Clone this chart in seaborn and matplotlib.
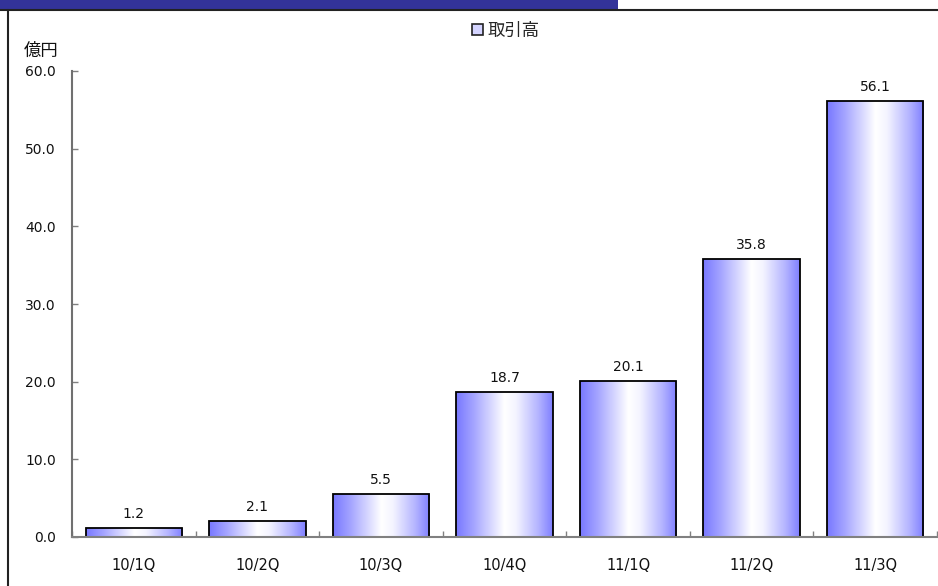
import numpy as np
import pandas as pd
import matplotlib
matplotlib.use("Agg")
import matplotlib.pyplot as plt
from matplotlib.colors import LinearSegmentedColormap
from matplotlib.patches import Rectangle, Patch
from matplotlib.lines import Line2D
import seaborn as sns

# Quarterly transaction volume (units: 100 million yen)
quarters = ["10/1Q", "10/2Q", "10/3Q", "10/4Q", "11/1Q", "11/2Q", "11/3Q"]
volume = [1.2, 2.1, 5.5, 18.7, 20.1, 35.8, 56.1]
series_name = "取引高"
unit_label = "億円"
y_ticks = [0, 10, 20, 30, 40, 50, 60]

sns.set_theme(style="white")
plt.rcParams["font.family"] = ["DejaVu Sans", "Noto Sans CJK JP"]

W, H = 938, 586
PT = 72 / 100  # points per pixel at 100 dpi
fig = plt.figure(figsize=(W / 100, H / 100), dpi=100)
ax = fig.add_axes([72 / W, (H - 537) / H, (937 - 72) / W, (537 - 71) / H])

df = pd.DataFrame({"quarter": quarters, "volume": volume})
sns.barplot(data=df, x="quarter", y="volume", ax=ax, width=0.78,
            color="white", edgecolor="black", linewidth=1.3, saturation=1)

# Horizontal blue-white-blue shading inside each bar
grad_cmap = LinearSegmentedColormap.from_list(
    "shade", [(0.0, "#7878ff"), (0.18, "#a4a4ff"), (0.5, "#ffffff"),
              (0.62, "#f4f4ff"), (0.85, "#b4b4ff"), (1.0, "#7f7fff")])
grad = np.linspace(0, 1, 256).reshape(1, -1)
for bar, v in zip(ax.patches, volume):
    x0 = bar.get_x()
    w = bar.get_width()
    img = ax.imshow(grad, cmap=grad_cmap, aspect="auto",
                    extent=(x0, x0 + w, 0, v), zorder=bar.get_zorder() - 0.1,
                    interpolation="bicubic")
    img.set_clip_path(bar)
    bar.set_facecolor("none")
    ax.annotate(f"{v:.1f}", (x0 + w / 2, v), xytext=(0, 7 * PT),
                textcoords="offset points", ha="center", va="bottom",
                fontsize=10, color="#111111")

ax.set_xlim(-0.5, len(quarters) - 0.5)
ax.set_ylim(0, 60)
ax.set_yticks(y_ticks)
ax.set_yticklabels([f"{t:.1f}" for t in y_ticks])
ax.set_xlabel("")
ax.set_ylabel("")

# Category separators as inward minor ticks
ax.set_xticks(np.arange(-0.5, len(quarters) + 0.5, 1.0), minor=True)
ax.tick_params(axis="x", which="major", length=0, pad=21 * PT, labelsize=10.5,
               labelcolor="#111111")
ax.tick_params(axis="x", which="minor", direction="in", length=6 * PT,
               width=1, color="#808080", bottom=True)
ax.tick_params(axis="y", which="major", direction="in", length=6 * PT, width=1,
               color="#808080", left=True, pad=16 * PT, labelsize=10,
               labelcolor="#111111")

for side in ("top", "right"):
    ax.spines[side].set_visible(False)
ax.spines["left"].set_color("#707070")
ax.spines["left"].set_linewidth(1.5)
ax.spines["bottom"].set_color("#808080")
ax.spines["bottom"].set_linewidth(1.5)

# Unit label above the y axis
fig.text(41 / W, 1 - 51 / H, unit_label, ha="center", va="center",
         fontsize=12.5, color="#111111")

# Legend centered above the plot
handle = Patch(facecolor="#d4d4ff", edgecolor="#222222", linewidth=1.2)
fig.legend([handle], [series_name], loc="center",
           bbox_to_anchor=(506 / W, 1 - 31 / H), frameon=False,
           fontsize=12.5, handlelength=0.6, handleheight=0.6,
           handletextpad=0.3, borderpad=0, borderaxespad=0)

# Header banner and frame lines
fig.add_artist(Rectangle((0, 1 - 9 / H), 618 / W, 9 / H,
                         transform=fig.transFigure, facecolor="#333399",
                         edgecolor="none"))
fig.add_artist(Line2D([0, 1], [1 - 9.5 / H, 1 - 9.5 / H],
                      transform=fig.transFigure, color="#222222", lw=1.5))
fig.add_artist(Line2D([7.5 / W, 7.5 / W], [0, 1 - 9.5 / H],
                      transform=fig.transFigure, color="#222222", lw=1.5))

fig.savefig("out.png", dpi=100)
